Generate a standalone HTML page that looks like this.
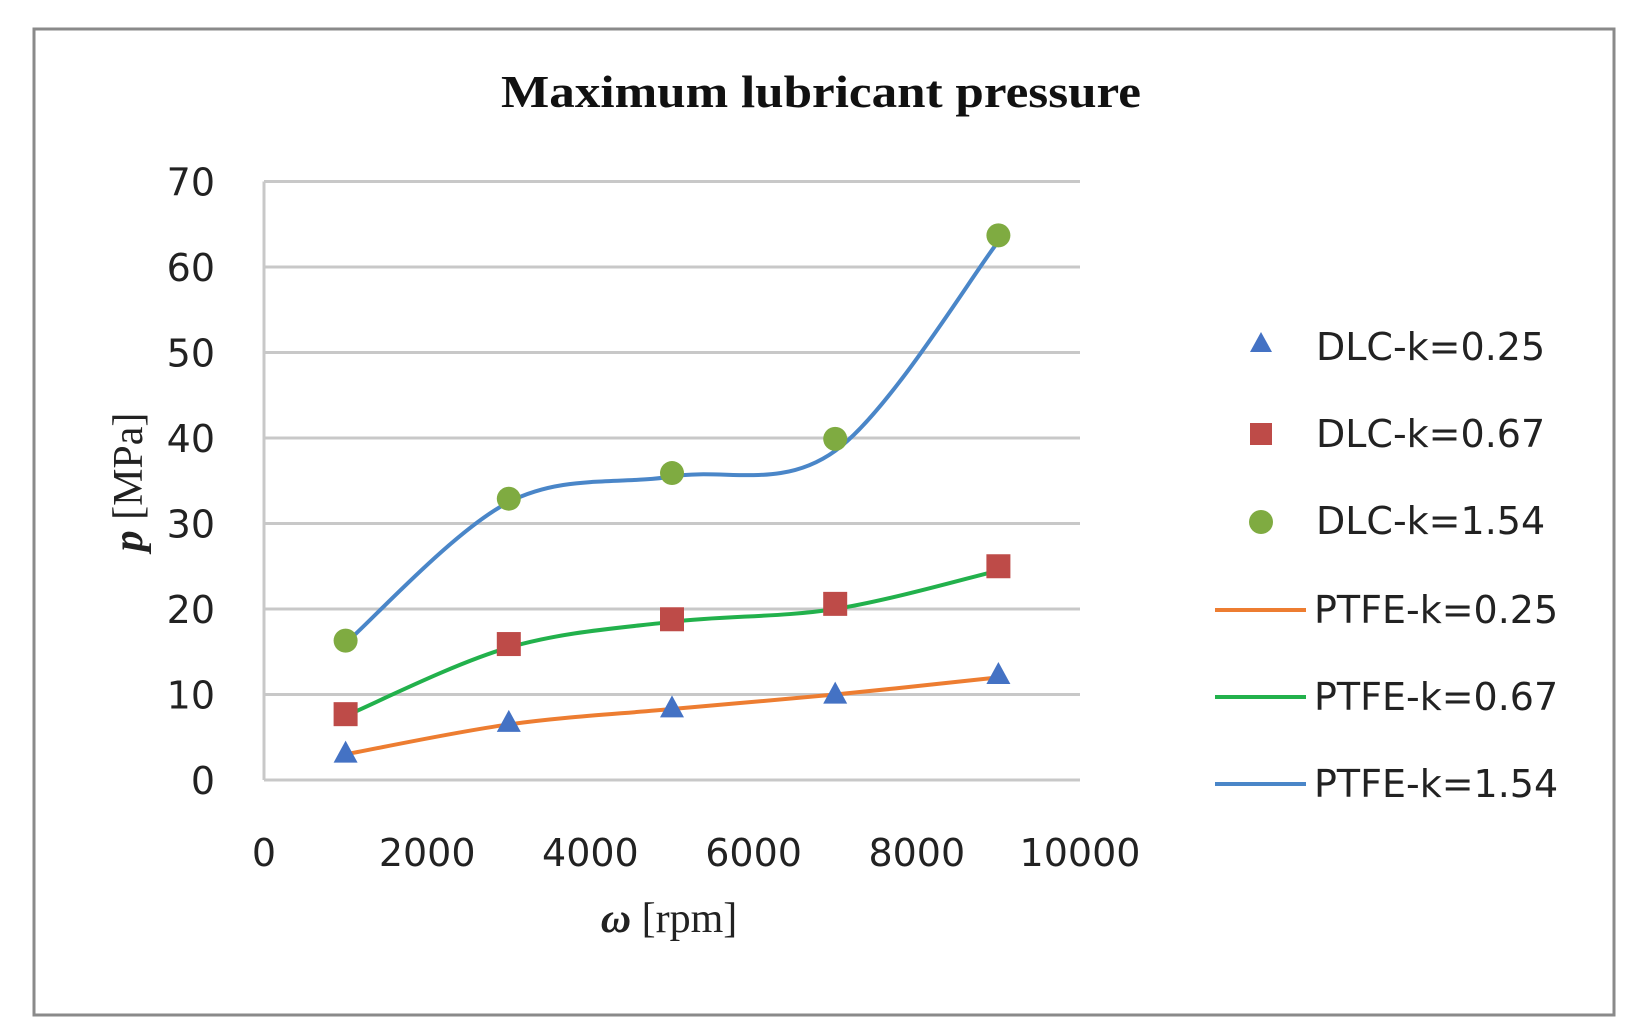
<!DOCTYPE html>
<html><head><meta charset="utf-8"><style>
html,body{margin:0;padding:0;background:#fff;}
svg{display:block}
</style></head><body>
<svg id="s" width="1636" height="1036" viewBox="0 0 1636 1036" xmlns="http://www.w3.org/2000/svg">
<rect x="0" y="0" width="1636" height="1036" fill="#fff"/>
<rect x="34" y="29" width="1580" height="986" fill="#fff" stroke="#8a8a8a" stroke-width="3"/>
<text x="821" y="107" text-anchor="middle" font-family="Liberation Serif, serif" font-weight="bold" font-size="46" textLength="640" lengthAdjust="spacingAndGlyphs" fill="#111">Maximum lubricant pressure</text>
<g id="grid" stroke="#c8c8c8" stroke-width="3"></g>
<g id="ylab" font-family="DejaVu Sans, sans-serif" font-size="38" fill="#222" text-anchor="end"></g>
<g id="xlab" font-family="DejaVu Sans, sans-serif" font-size="38" fill="#222" text-anchor="middle"></g>
<text transform="translate(142,482) rotate(-90)" text-anchor="middle" font-family="Liberation Serif, serif" font-size="42" fill="#222"><tspan font-style="italic" font-weight="bold">p</tspan> [MPa]</text>
<text x="669" y="932" text-anchor="middle" font-family="Liberation Serif, serif" font-size="42" fill="#222"><tspan font-style="italic" font-weight="bold">ω</tspan> [rpm]</text>
<g id="series"></g>
<g font-family="DejaVu Sans, sans-serif" font-size="38" fill="#222">
<polygon points="1261,332 1250,352 1272,352" fill="#4472c4"/>
<text x="1316" y="360">DLC-k=0.25</text>
<rect x="1250" y="423" width="22" height="22" fill="#be4b48"/>
<text x="1316" y="447">DLC-k=0.67</text>
<circle cx="1261" cy="522" r="12" fill="#7fab41"/>
<text x="1316" y="534">DLC-k=1.54</text>
<line x1="1215" y1="610" x2="1306" y2="610" stroke="#ed7d31" stroke-width="4"/>
<text x="1314" y="623">PTFE-k=0.25</text>
<line x1="1215" y1="697" x2="1306" y2="697" stroke="#22b14c" stroke-width="4"/>
<text x="1314" y="710">PTFE-k=0.67</text>
<line x1="1215" y1="784" x2="1306" y2="784" stroke="#4a86c8" stroke-width="4"/>
<text x="1314" y="797">PTFE-k=1.54</text>
</g>
</svg>
<script>
var NS="http://www.w3.org/2000/svg";
function X(v){return 264+v*0.0816;}
function Y(v){return 780-v*8.55;}
function el(t,a,p){var e=document.createElementNS(NS,t);for(var k in a)e.setAttribute(k,a[k]);p.appendChild(e);return e;}
var g=document.getElementById('grid'),yl=document.getElementById('ylab'),xl=document.getElementById('xlab');
for(var v=0;v<=70;v+=10){el('line',{x1:264,x2:1080,y1:Y(v),y2:Y(v)},g);var t=el('text',{x:215,y:Y(v)+14},yl);t.textContent=v;}
el('line',{x1:264,x2:264,y1:Y(70),y2:Y(0)},g);
for(var v=0;v<=10000;v+=2000){var t=el('text',{x:X(v),y:866},xl);t.textContent=v;}
var xs=[1000,3000,5000,7000,9000];
function curve(ys){var p=xs.map(function(x,i){return[X(x),Y(ys[i])];});var d="M"+p[0][0]+","+p[0][1];
for(var i=0;i<p.length-1;i++){var p0=p[i-1]||p[i],p1=p[i],p2=p[i+1],p3=p[i+2]||p[i+1];
d+=" C"+(p1[0]+(p2[0]-p0[0])/6)+","+(p1[1]+(p2[1]-p0[1])/6)+" "+(p2[0]-(p3[0]-p1[0])/6)+","+(p2[1]-(p3[1]-p1[1])/6)+" "+p2[0]+","+p2[1];}return d;}
var S=document.getElementById('series');
el('path',{d:curve([3,6.5,8.3,10,12]),fill:"none",stroke:"#ed7d31","stroke-width":4},S);
el('path',{d:curve([7.5,15.5,18.5,20,24.5]),fill:"none",stroke:"#22b14c","stroke-width":4},S);
el('path',{d:curve([16,32.5,35.5,38.5,63]),fill:"none",stroke:"#4a86c8","stroke-width":4},S);
[3.2,6.8,8.5,10.1,12.4].forEach(function(v,i){var x=X(xs[i]),y=Y(v);el('polygon',{points:(x)+","+(y-12)+" "+(x-12)+","+(y+10)+" "+(x+12)+","+(y+10),fill:"#4472c4"},S);});
[7.7,15.9,18.8,20.6,25].forEach(function(v,i){var x=X(xs[i]),y=Y(v);el('rect',{x:x-12,y:y-12,width:24,height:24,fill:"#be4b48"},S);});
[16.3,32.9,35.9,39.9,63.7].forEach(function(v,i){el('circle',{cx:X(xs[i]),cy:Y(v),r:12,fill:"#7fab41"},S);});
</script>
</body></html>
